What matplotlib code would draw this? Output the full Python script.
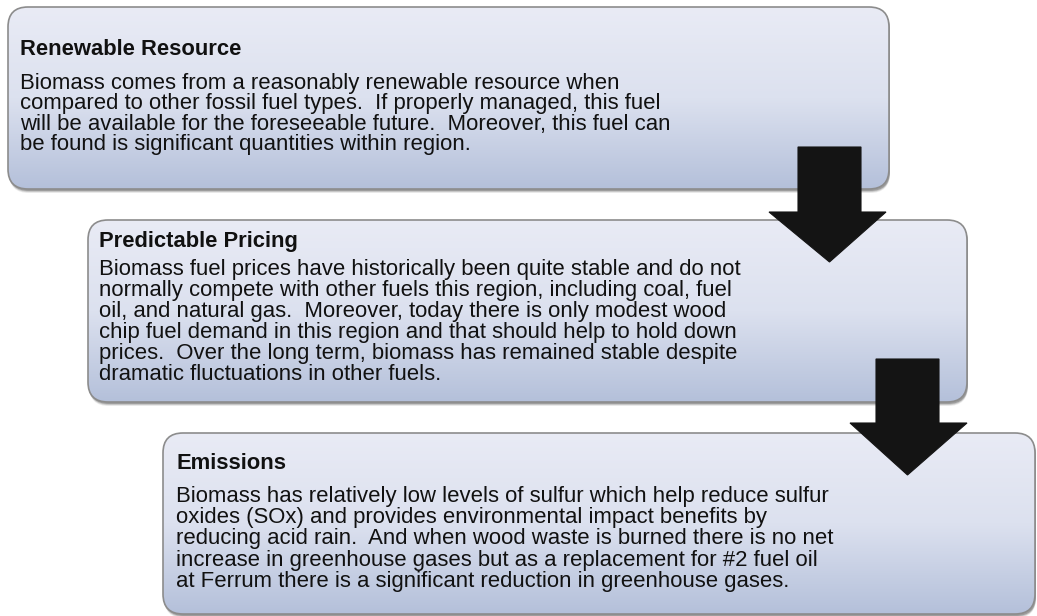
import numpy as np
import matplotlib
matplotlib.use("Agg")
import matplotlib.pyplot as plt
from matplotlib.patches import FancyBboxPatch, Polygon
from matplotlib.colors import LinearSegmentedColormap

plt.rcParams['font.family'] = ['Liberation Sans', 'DejaVu Sans']

# text content of the three steps
titles = ["Renewable Resource", "Predictable Pricing", "Emissions"]

body_1 = [
    "Biomass comes from a reasonably renewable resource when",
    "compared to other fossil fuel types.  If properly managed, this fuel",
    "will be available for the foreseeable future.  Moreover, this fuel can",
    "be found is significant quantities within region.",
]
body_2 = [
    "Biomass fuel prices have historically been quite stable and do not",
    "normally compete with other fuels this region, including coal, fuel",
    "oil, and natural gas.  Moreover, today there is only modest wood",
    "chip fuel demand in this region and that should help to hold down",
    "prices.  Over the long term, biomass has remained stable despite",
    "dramatic fluctuations in other fuels.",
]
body_3 = [
    "Biomass has relatively low levels of sulfur which help reduce sulfur",
    "oxides (SOx) and provides environmental impact benefits by",
    "reducing acid rain.  And when wood waste is burned there is no net",
    "increase in greenhouse gases but as a replacement for #2 fuel oil",
    "at Ferrum there is a significant reduction in greenhouse gases.",
]
bodies = [body_1, body_2, body_3]

# layout in pixels: (left, top, right, bottom), text x, title baseline, first baseline, line step
boxes = [(8, 7, 889, 189), (88, 220, 967, 402), (163, 433, 1035, 614)]
text_x = [20, 99, 176]
title_y = [55, 247, 469]
line0_y = [89, 275, 502]
line_step = [20.3, 21.0, 21.2]

# arrows: shaft left, shaft right, shaft top, head start y, head left, head right, tip y
arrows = [(798, 861, 147, 212, 769, 886, 262),
          (876, 939, 359, 423, 850, 967, 475)]

W, H = 1037, 616
fig = plt.figure(figsize=(W / 100, H / 100), dpi=100)
ax = fig.add_axes([0, 0, 1, 1])
ax.set_xlim(0, W)
ax.set_ylim(H, 0)
ax.axis("off")

grad = LinearSegmentedColormap.from_list("box", ["#e9ebf5", "#dce1ef", "#b4c0da"])
g = np.linspace(0, 1, 256).reshape(-1, 1)

for i, (x0, y0, x1, y1) in enumerate(boxes):
    # soft shadow
    for k, a in zip([4, 3, 2], [0.10, 0.18, 0.28]):
        sh = FancyBboxPatch((x0 + 1, y0 + k), x1 - x0, y1 - y0,
                            boxstyle="round,pad=0,rounding_size=20",
                            fc="#303030", ec="none", alpha=a, zorder=1)
        ax.add_patch(sh)
    patch = FancyBboxPatch((x0, y0), x1 - x0, y1 - y0,
                           boxstyle="round,pad=0,rounding_size=20",
                           fc="none", ec="#8c8c8c", lw=1.2, zorder=3)
    ax.add_patch(patch)
    im = ax.imshow(g, cmap=grad, aspect="auto", extent=(x0, x1, y1, y0),
                   zorder=2, interpolation="bicubic")
    im.set_clip_path(patch)

    ax.text(text_x[i], title_y[i], titles[i], fontsize=15.8, fontweight="bold",
            color="#111111", va="baseline", ha="left", zorder=5)
    for j, line in enumerate(bodies[i]):
        ax.text(text_x[i], line0_y[i] + j * line_step[i], line, fontsize=15.9,
                color="#111111", va="baseline", ha="left", zorder=5)

for sl, sr, st, hy, hl, hr, ty in arrows:
    pts = [(sl, st), (sr, st), (sr, hy), (hr, hy), ((sl + sr) / 2, ty),
           (hl, hy), (sl, hy)]
    ax.add_patch(Polygon(pts, closed=True, fc="#141414", ec="#141414",
                         lw=0.8, zorder=4))

fig.savefig("out.png", dpi=100)
